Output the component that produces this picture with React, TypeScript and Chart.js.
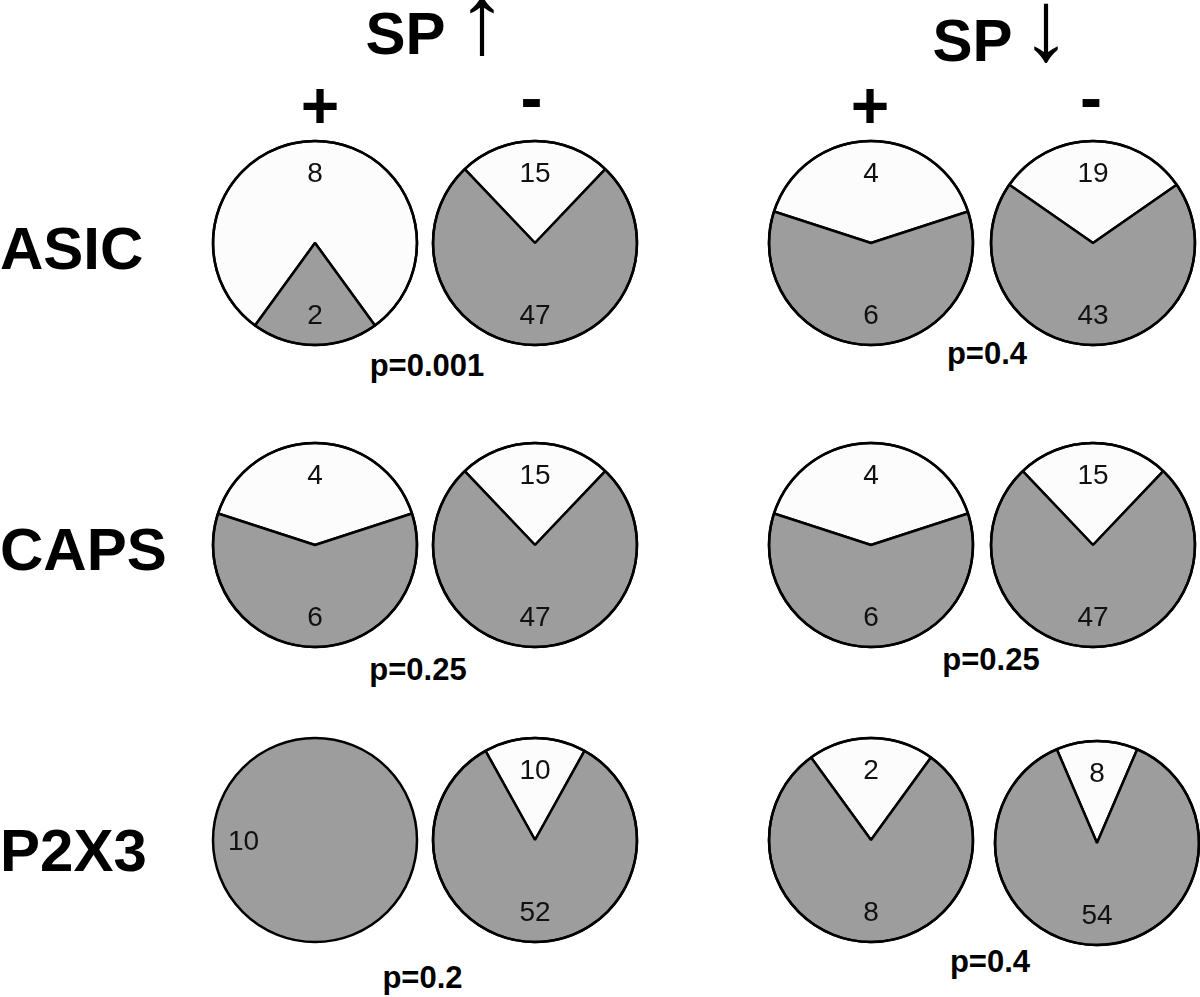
import React, { useEffect, useRef } from 'react';
import { Chart, registerables } from 'chart.js';

Chart.register(...registerables);

// ---------- data ----------
const groupTitles = ['SP', 'SP'];
const groupArrows = ['↑', '↓'];
const columnSigns = ['+', '-', '+', '-'];
const rowNames = ['ASIC', 'CAPS', 'P2X3'];

const asicWhite = [8, 15, 4, 19];
const asicGray = [2, 47, 6, 43];
const capsWhite = [4, 15, 4, 15];
const capsGray = [6, 47, 6, 47];
const p2x3White = [0, 10, 2, 8];
const p2x3Gray = [10, 52, 8, 54];

const asicP = ['p=0.001', 'p=0.4'];
const capsP = ['p=0.25', 'p=0.25'];
const p2x3P = ['p=0.2', 'p=0.4'];

const whiteRows = [asicWhite, capsWhite, p2x3White];
const grayRows = [asicGray, capsGray, p2x3Gray];
const pRows = [asicP, capsP, p2x3P];

// ---------- layout / style ----------
const sliceColors = ['#fcfcfc', '#9d9d9d'];
const FONT = '"Liberation Sans", Arial, Helvetica, sans-serif';
const R = 102;
const CANVAS = 240;
const pieCenters = [
  [[315, 243], [534.5, 243], [871, 243], [1092.5, 243]],
  [[315, 544.5], [534.5, 544.5], [871, 544.5], [1093, 544.5]],
  [[315, 840], [534.5, 840], [871, 840], [1096.5, 843]],
];
const titlePos = [
  { sx: 365.5, sBase: 55, ax: 482, aBase: 53 },
  { sx: 932.6, sBase: 62, ax: 1046, aBase: 60 },
];
const signPos = [
  { x: 320, base: 128 },
  { x: 531.5, base: 120 },
  { x: 870, base: 128 },
  { x: 1091, base: 120 },
];
const rowBase = [270, 571, 872];
const pPos = [
  [[427, 376], [987, 364]],
  [[418, 680], [991, 670]],
  [[422.5, 988], [990, 972]],
];

const pieDecor = {
  id: 'pieDecor',
  afterDatasetsDraw(chart: any) {
    const meta = chart.getDatasetMeta(0);
    const ctx = chart.ctx as CanvasRenderingContext2D;
    const data = chart.data.datasets[0].data as number[];
    const total = data.reduce((a, b) => a + b, 0);
    const first = meta.data[0];
    const { x, y, outerRadius } = first.getProps(['x', 'y', 'outerRadius'], true);
    ctx.save();
    ctx.beginPath();
    ctx.arc(x, y, outerRadius, 0, Math.PI * 2);
    ctx.lineWidth = 2.5;
    ctx.strokeStyle = '#000';
    ctx.stroke();
    const fs = 28;
    ctx.font = `${fs}px ${FONT}`;
    ctx.fillStyle = '#111';
    ctx.textAlign = 'center';
    ctx.textBaseline = 'alphabetic';
    meta.data.forEach((arc: any, i: number) => {
      const v = data[i];
      if (!v) return;
      const { startAngle, endAngle } = arc.getProps(['startAngle', 'endAngle'], true);
      const mid = v === total ? Math.PI : (startAngle + endAngle) / 2;
      const lx = x + Math.cos(mid) * outerRadius * 0.7;
      const ly = y + Math.sin(mid) * outerRadius * 0.7;
      ctx.fillText(String(v), lx, ly + fs * 0.358);
    });
    ctx.restore();
  },
};

function Pie({ white, gray, cx, cy }: { white: number; gray: number; cx: number; cy: number }) {
  const ref = useRef<HTMLCanvasElement>(null);
  useEffect(() => {
    const total = white + gray;
    const chart = new Chart(ref.current as HTMLCanvasElement, {
      type: 'pie',
      data: {
        labels: ['white', 'gray'],
        datasets: [
          {
            data: [white, gray],
            backgroundColor: sliceColors,
            borderColor: '#000',
            borderWidth: (c: any) => (c.raw === total ? 0 : 2.5),
            borderAlign: 'center',
            hoverOffset: 0,
          } as any,
        ],
      },
      options: {
        responsive: false,
        animation: false,
        events: [],
        radius: R,
        rotation: -(white / total) * 180,
        layout: { padding: 0 },
        plugins: { legend: { display: false }, tooltip: { enabled: false } },
      } as any,
      plugins: [pieDecor],
    });
    return () => chart.destroy();
  }, [white, gray]);
  return (
    <canvas
      ref={ref}
      width={CANVAS}
      height={CANVAS}
      style={{ position: 'absolute', left: cx - CANVAS / 2, top: cy - CANVAS / 2, width: CANVAS, height: CANVAS }}
    />
  );
}

function Txt({
  x,
  base,
  size,
  bold,
  center,
  children,
}: {
  x: number;
  base: number;
  size: number;
  bold?: boolean;
  center?: boolean;
  children: React.ReactNode;
}) {
  return (
    <div
      style={{
        position: 'absolute',
        left: x,
        top: base - 0.8465 * size,
        fontSize: size,
        lineHeight: 1,
        fontWeight: bold ? 'bold' : 'normal',
        fontFamily: FONT,
        color: '#000',
        whiteSpace: 'nowrap',
        transform: center ? 'translateX(-50%)' : undefined,
      }}
    >
      {children}
    </div>
  );
}

export default function App() {
  return (
    <div
      style={{
        position: 'absolute',
        left: 0,
        top: 0,
        width: 1200,
        height: 997,
        background: '#fff',
        overflow: 'hidden',
      }}
    >
      {groupTitles.map((t, i) => (
        <React.Fragment key={'t' + i}>
          <Txt x={titlePos[i].sx} base={titlePos[i].sBase} size={60} bold>
            {t}
          </Txt>
          <Txt x={titlePos[i].ax} base={titlePos[i].aBase} size={100} center>
            {groupArrows[i]}
          </Txt>
        </React.Fragment>
      ))}
      {columnSigns.map((s, i) => (
        <Txt key={'s' + i} x={signPos[i].x} base={signPos[i].base} size={66} bold center>
          {s}
        </Txt>
      ))}
      {rowNames.map((n, i) => (
        <Txt key={'r' + i} x={0} base={rowBase[i]} size={60} bold>
          {n}
        </Txt>
      ))}
      {pRows.map((row, r) =>
        row.map((p, g) => (
          <Txt key={'p' + r + g} x={pPos[r][g][0]} base={pPos[r][g][1]} size={31} bold center>
            {p}
          </Txt>
        ))
      )}
      {whiteRows.map((wr, r) =>
        wr.map((w, c) => (
          <Pie key={'pie' + r + c} white={w} gray={grayRows[r][c]} cx={pieCenters[r][c][0]} cy={pieCenters[r][c][1]} />
        ))
      )}
    </div>
  );
}
